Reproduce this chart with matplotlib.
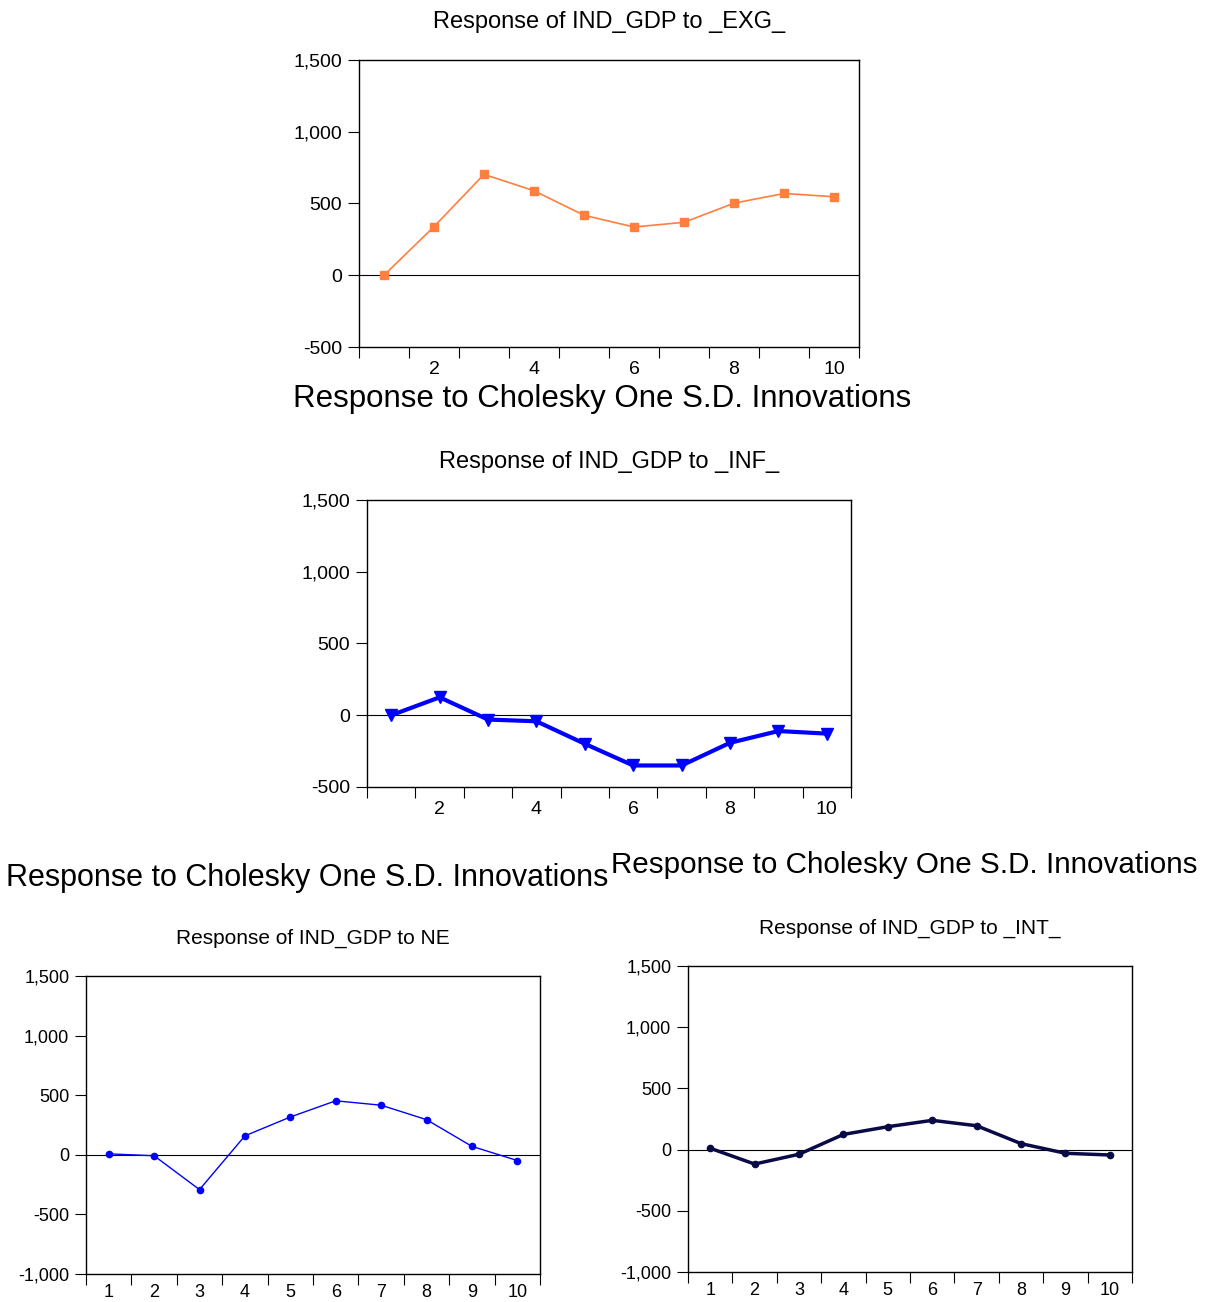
import matplotlib
matplotlib.use("Agg")
import matplotlib.pyplot as plt
from matplotlib.ticker import FixedLocator, FuncFormatter

plt.rcParams['font.family'] = ['Liberation Sans', 'DejaVu Sans']

# --- data (impulse responses, periods 1..10) ---
periods = [1, 2, 3, 4, 5, 6, 7, 8, 9, 10]
resp_exg = [0, 339, 703, 589, 418, 336, 369, 502, 570, 547]
resp_inf = [0, 125, -30, -42, -199, -350, -350, -192, -110, -128]
resp_ne = [8, -8, -292, 159, 317, 453, 416, 295, 71, -48]
resp_int = [11, -118, -38, 124, 187, 239, 195, 49, -30, -44]

main_title = "Response to Cholesky One S.D. Innovations"

W, H = 1206, 1302
fig = plt.figure(figsize=(W / 100, H / 100), dpi=100)


def box(l, t, r, b):
    return [l / W, 1 - b / H, (r - l) / W, (b - t) / H]


def style_axes(ax, title, ylim, yticks, xlabels, fs, tfs, xpad):
    ax.set_xlim(0.5, 10.5)
    ax.set_ylim(*ylim)
    ax.axhline(0, color='black', lw=0.8, zorder=1)
    ax.yaxis.set_major_locator(FixedLocator(yticks))
    ax.yaxis.set_major_formatter(FuncFormatter(lambda v, p: f"{v:,.0f}"))
    ax.xaxis.set_major_locator(FixedLocator(xlabels))
    ax.xaxis.set_minor_locator(FixedLocator([k + 0.5 for k in range(0, 11)]))
    ax.tick_params(axis='x', which='major', length=0, pad=xpad, labelsize=fs)
    ax.tick_params(axis='x', which='minor', length=8, width=0.8, direction='out')
    ax.tick_params(axis='y', length=8, width=0.8, direction='out', pad=4, labelsize=fs)
    for s in ax.spines.values():
        s.set_linewidth(1.0)
    ax.set_title(title, fontsize=tfs, pad=23)


# panel 1: EXG
ax1 = fig.add_axes(box(359, 60, 859, 347))
ax1.plot(periods, resp_exg, color='#FF7F3F', lw=1.2, marker='s', ms=6, zorder=3)
style_axes(ax1, "Response of IND_GDP to _EXG_", (-500, 1500), [-500, 0, 500, 1000, 1500],
           [2, 4, 6, 8, 10], 14, 17, 10)
fig.text(602 / W, 1 - 399 / H, main_title, ha='center', va='center', fontsize=22.5)

# panel 2: INF
ax2 = fig.add_axes(box(367, 500, 851, 787))
ax2.plot(periods, resp_inf, color='#0000FF', lw=3, marker='v', ms=8, zorder=3)
style_axes(ax2, "Response of IND_GDP to _INF_", (-500, 1500), [-500, 0, 500, 1000, 1500],
           [2, 4, 6, 8, 10], 14, 17, 10)

# panel 3: NE
ax3 = fig.add_axes(box(86, 976, 540, 1274))
ax3.plot(periods, resp_ne, color='#0000FF', lw=1.0, marker='o', ms=4.5, zorder=3)
style_axes(ax3, "Response of IND_GDP to NE", (-1000, 1500), [-1000, -500, 0, 500, 1000, 1500],
           periods, 13, 15, 7)
fig.text(307 / W, 1 - 878 / H, main_title, ha='center', va='center', fontsize=22)

# panel 4: INT
ax4 = fig.add_axes(box(688, 966, 1132, 1272))
ax4.plot(periods, resp_int, color='#0A0A46', lw=2.5, marker='o', ms=4.5, zorder=3)
style_axes(ax4, "Response of IND_GDP to _INT_", (-1000, 1500), [-1000, -500, 0, 500, 1000, 1500],
           periods, 13, 15, 7)
fig.text(904 / W, 1 - 865 / H, main_title, ha='center', va='center', fontsize=21.3)

fig.savefig("out.png", dpi=100)
